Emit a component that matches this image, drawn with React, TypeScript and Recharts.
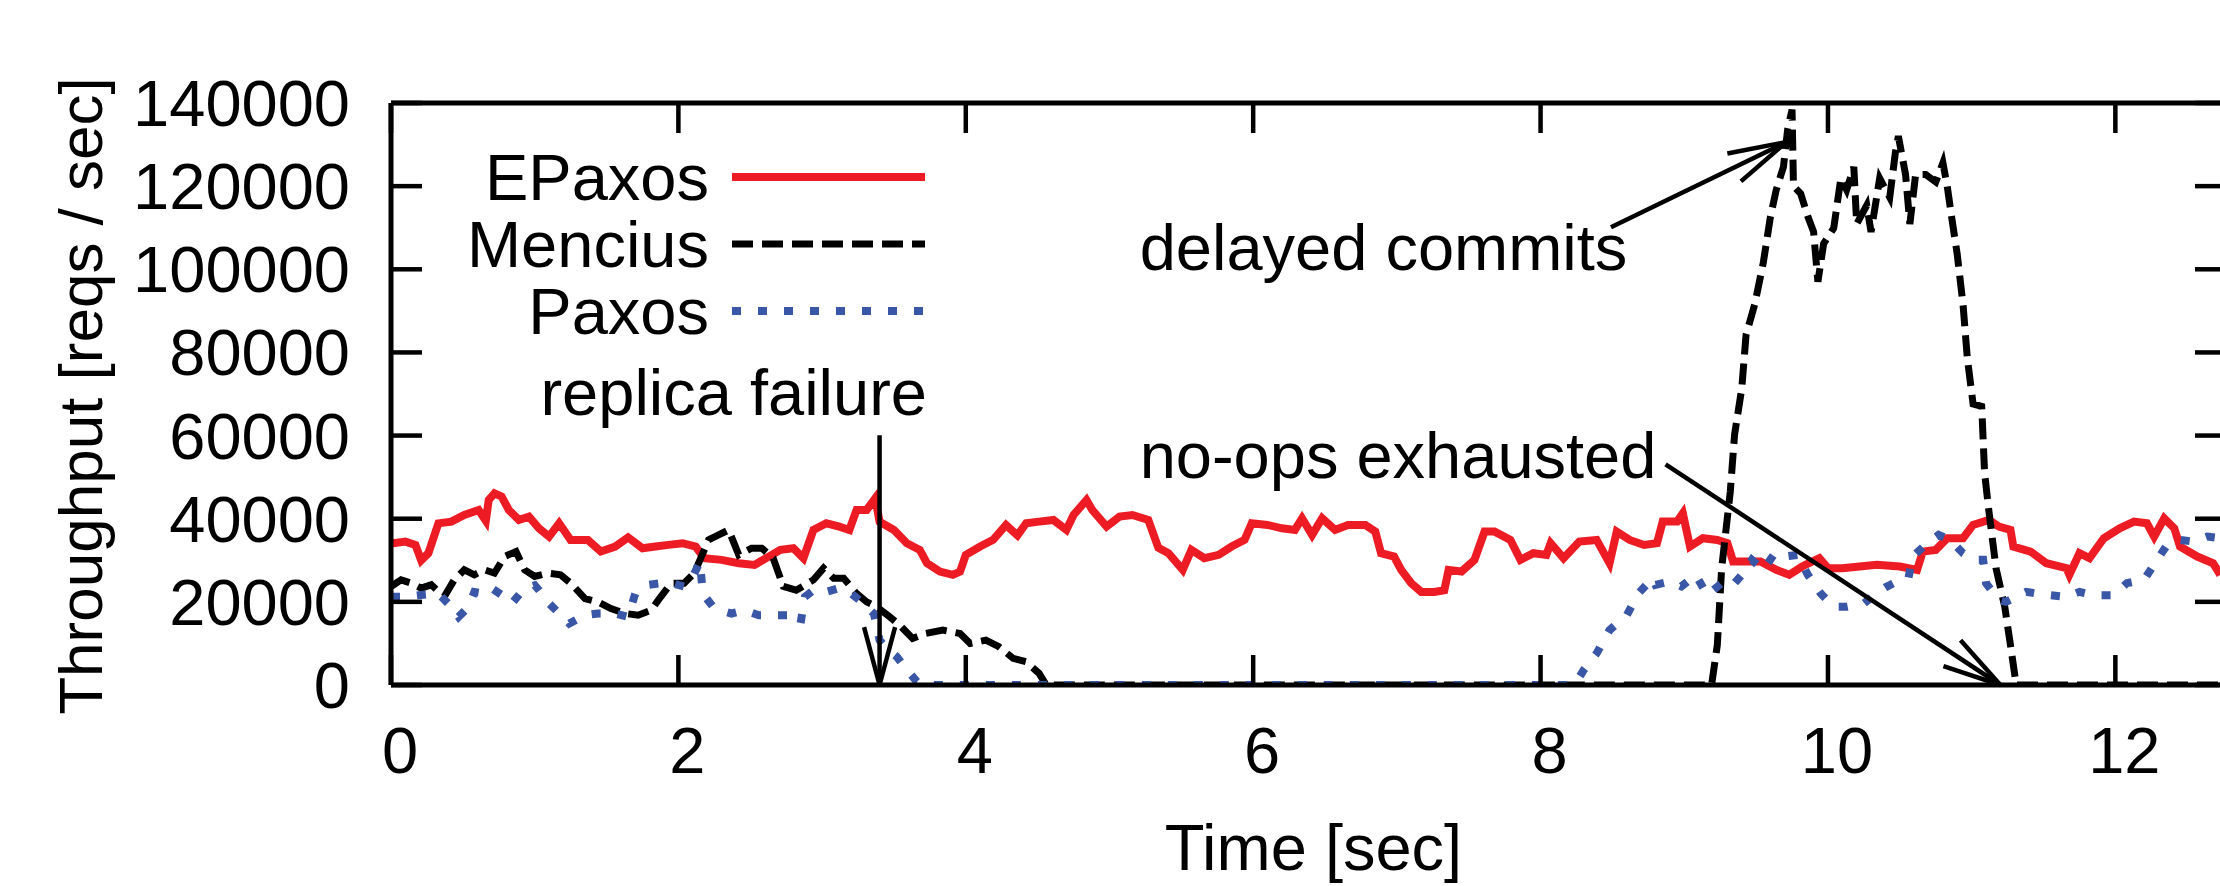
import React from 'react';
import { LineChart, Line, XAxis, YAxis, Legend, ReferenceLine, ReferenceDot } from 'recharts';

// [time (sec), throughput (reqs/sec)]
const epaxosSamples: [number, number][] = [
  [0, 34000], [0.1, 34500], [0.17, 33700], [0.21, 30000], [0.26, 31700], [0.33, 38900], [0.42, 39300],
  [0.51, 40900], [0.61, 42100], [0.66, 39500], [0.68, 44500], [0.72, 46100], [0.77, 45300], [0.82, 42100],
  [0.89, 39700], [0.96, 40500], [1.03, 37700], [1.1, 35700], [1.17, 38900], [1.25, 34900], [1.37, 34900],
  [1.46, 32100], [1.56, 33300], [1.65, 35500], [1.75, 32900], [1.84, 33300], [1.93, 33700], [2.03, 34100],
  [2.12, 33300], [2.18, 30500], [2.3, 30100], [2.42, 29300], [2.53, 28900], [2.57, 29700], [2.71, 32500],
  [2.8, 32900], [2.87, 30500], [2.94, 37300], [3.03, 38900], [3.12, 38100], [3.19, 37300], [3.24, 42100],
  [3.31, 42100], [3.37, 44900], [3.4, 39300], [3.5, 37300], [3.59, 34100], [3.68, 32500], [3.73, 29300],
  [3.82, 27300], [3.91, 26500], [3.96, 27300], [4.0, 31300], [4.1, 33300], [4.19, 34900], [4.28, 38500],
  [4.36, 36000], [4.42, 38900], [4.51, 39300], [4.61, 39700], [4.7, 37300], [4.75, 40900], [4.84, 44500],
  [4.88, 42100], [4.98, 38100], [5.07, 40500], [5.16, 40900], [5.27, 39700], [5.34, 33000], [5.41, 31700],
  [5.51, 27700], [5.57, 32500], [5.66, 30500], [5.76, 31300], [5.85, 33300], [5.94, 34900], [5.99, 38900],
  [6.1, 38500], [6.2, 37700], [6.29, 37300], [6.34, 40100], [6.41, 36100], [6.48, 40100], [6.57, 37300],
  [6.66, 38500], [6.78, 38500], [6.85, 36900], [6.89, 31700], [6.98, 30900], [7.03, 27700], [7.1, 24500],
  [7.17, 22400], [7.26, 22400], [7.33, 22800], [7.36, 27700], [7.45, 27300], [7.54, 30100], [7.61, 36900],
  [7.68, 36900], [7.79, 34900], [7.86, 30100], [7.95, 31700], [8.04, 31300], [8.07, 34100], [8.16, 30500],
  [8.27, 34500], [8.39, 34900], [8.48, 29300], [8.53, 36900], [8.62, 34900], [8.72, 33700], [8.81, 34100],
  [8.85, 39300], [8.95, 39300], [8.99, 41300], [9.04, 33300], [9.13, 35300], [9.23, 34900], [9.3, 34100],
  [9.34, 29700], [9.41, 29700], [9.53, 29700], [9.64, 27700], [9.73, 26500], [9.82, 28500], [9.94, 30500],
  [10.0, 28100], [10.1, 28100], [10.22, 28500], [10.34, 28900], [10.5, 28500], [10.62, 27700], [10.66, 32100],
  [10.75, 32500], [10.83, 35300], [10.94, 35300], [11.01, 38500], [11.12, 39700], [11.19, 38100], [11.27, 37300],
  [11.29, 33300], [11.41, 32100], [11.52, 29300], [11.66, 28100], [11.68, 26500], [11.75, 31700], [11.82, 30500],
  [11.92, 35300], [12.03, 37700], [12.13, 39300], [12.22, 38900], [12.27, 35700], [12.34, 40100], [12.41, 37700],
  [12.45, 33300], [12.57, 30900], [12.68, 29300], [12.73, 26500],
];

const menciusSamples: [number, number][] = [
  [0, 23700], [0.07, 25300], [0.14, 24500], [0.21, 23300], [0.28, 24100], [0.37, 21200], [0.44, 25300],
  [0.51, 27700], [0.58, 26500], [0.65, 27700], [0.72, 26900], [0.79, 30900], [0.87, 32100], [0.93, 27700],
  [1.0, 26100], [1.09, 26900], [1.18, 26500], [1.25, 24500], [1.35, 20800], [1.44, 20000], [1.53, 18400],
  [1.63, 17200], [1.72, 16800], [1.81, 18000], [1.86, 20400], [1.95, 24500], [2.04, 24500], [2.11, 26900],
  [2.21, 34900], [2.28, 36100], [2.35, 37300], [2.42, 31300], [2.51, 32900], [2.58, 32900], [2.66, 30500],
  [2.73, 23700], [2.82, 22800], [2.94, 25300], [3.01, 28100], [3.08, 25700], [3.15, 25700], [3.24, 22000],
  [3.31, 20000], [3.38, 18800], [3.47, 16400], [3.54, 14400], [3.63, 11200], [3.72, 12400], [3.84, 13200],
  [3.96, 12400], [4.03, 10000], [4.14, 10800], [4.23, 9200], [4.33, 6400], [4.42, 5600], [4.51, 2800],
  [4.56, 0], [9.19, 0], [9.23, 9600], [9.26, 28000], [9.32, 46400], [9.35, 60200], [9.4, 71300],
  [9.43, 84200], [9.49, 91500], [9.55, 101600], [9.6, 112700], [9.64, 119100], [9.69, 124600], [9.72, 133800],
  [9.75, 138400], [9.76, 120000], [9.81, 118200], [9.86, 112700], [9.9, 109000], [9.93, 97000], [9.97, 106200],
  [10.04, 109900], [10.09, 121900], [10.13, 119100], [10.18, 124600], [10.2, 110900], [10.27, 115400],
  [10.3, 109000], [10.36, 121900], [10.43, 117300], [10.47, 128300], [10.49, 132000], [10.54, 122800],
  [10.57, 110900], [10.61, 122800], [10.68, 122800], [10.75, 121000], [10.8, 125600], [10.83, 120000],
  [10.86, 112700], [10.9, 103500], [10.94, 91500], [10.97, 78600], [11.01, 67600], [11.07, 67000],
  [11.09, 51000], [11.12, 41800], [11.17, 28000], [11.23, 18900], [11.27, 9600], [11.31, 0], [12.77, 0],
];

const paxosSamples: [number, number][] = [
  [0, 21200], [0.1, 21200], [0.19, 21600], [0.33, 22000], [0.42, 18800], [0.47, 16400], [0.54, 18800],
  [0.58, 22400], [0.65, 22000], [0.7, 23300], [0.79, 21200], [0.84, 19600], [0.93, 23300], [1.0, 24000],
  [1.03, 22800], [1.1, 19600], [1.17, 17200], [1.24, 14800], [1.35, 16800], [1.44, 17200], [1.56, 17200],
  [1.65, 16400], [1.7, 22000], [1.79, 24100], [1.88, 24500], [1.95, 24500], [2.04, 23700], [2.09, 25300],
  [2.15, 29700], [2.17, 22000], [2.25, 18400], [2.37, 17200], [2.46, 18000], [2.56, 16800], [2.61, 16800],
  [2.71, 16800], [2.78, 16800], [2.85, 14800], [2.88, 21200], [2.94, 22800], [3.03, 22400], [3.12, 23300],
  [3.19, 22400], [3.26, 20400], [3.36, 17200], [3.4, 10800], [3.45, 8800], [3.52, 6800], [3.59, 3600],
  [3.66, 800], [3.73, 0], [8.2, 0], [8.25, 800], [8.3, 3600], [8.39, 7600], [8.48, 13200], [8.6, 16800],
  [8.68, 22000], [8.78, 25700], [8.8, 24100], [8.9, 24900], [8.98, 23700], [9.08, 26500], [9.16, 21600],
  [9.26, 24500], [9.33, 23700], [9.41, 26900], [9.47, 30100], [9.55, 27700], [9.63, 31700], [9.7, 30900],
  [9.79, 31300], [9.86, 26500], [9.95, 22000], [10.04, 18800], [10.13, 18800], [10.25, 19600], [10.35, 22400],
  [10.4, 23500], [10.48, 24900], [10.56, 25700], [10.59, 30900], [10.69, 34100], [10.77, 36100], [10.85, 34900],
  [10.94, 31700], [11.01, 30100], [11.08, 30100], [11.1, 24500], [11.19, 20400], [11.24, 20000], [11.38, 22400],
  [11.45, 22000], [11.55, 21600], [11.66, 21200], [11.75, 22400], [11.85, 21600], [11.99, 21600], [12.08, 24500],
  [12.2, 25300], [12.29, 30100], [12.36, 33700], [12.45, 34900], [12.54, 34500], [12.64, 35700], [12.73, 35300],
];

const xTicks = [0, 2, 4, 6, 8, 10, 12];
const yTicks = [0, 20000, 40000, 60000, 80000, 100000, 120000, 140000];
const X_MAX = 12.77;
const Y_MAX = 140000;

const annotationTexts = [
  { text: 'replica failure', x: 1.04, y: 64900 },
  { text: 'delayed commits', x: 5.21, y: 99800 },
  { text: 'no-ops exhausted', x: 5.21, y: 49800 },
];
const annotationArrows = [
  { from: { x: 3.4, y: 60100 }, to: { x: 3.4, y: 0 } },
  { from: { x: 8.49, y: 110100 }, to: { x: 9.71, y: 130600 } },
  { from: { x: 8.87, y: 53100 }, to: { x: 11.2, y: 0 } },
];

const FONT = '"Liberation Sans", Arial, Helvetica, sans-serif';
const RED = '#ed1c24';
const BLUE = '#3a56a6';

const seriesStyle: Record<string, { color: string; width: number; dash?: string }> = {
  EPaxos: { color: RED, width: 8 },
  Mencius: { color: '#000000', width: 7, dash: '21 9' },
  Paxos: { color: BLUE, width: 8, dash: '9 17' },
};

const toRows = (s: [number, number][]) => s.map(([t, v]) => ({ t, v }));

const BottomTick = (p: any) => (
  <g>
    <line x1={p.x} y1={p.y} x2={p.x} y2={p.y - 30} stroke="#000" strokeWidth={4.5} />
    <text x={p.x + 9} y={p.y + 88} textAnchor="middle" fontSize={65} fontFamily={FONT} fill="#000">
      {p.payload.value}
    </text>
  </g>
);
const TopTick = (p: any) => (
  <line x1={p.x} y1={p.y} x2={p.x} y2={p.y + 30} stroke="#000" strokeWidth={4.5} />
);
const LeftTick = (p: any) => (
  <g>
    <line x1={p.x} y1={p.y} x2={p.x + 31} y2={p.y} stroke="#000" strokeWidth={4.5} />
    <text x={p.x - 41} y={p.y + 23} textAnchor="end" fontSize={65} fontFamily={FONT} fill="#000">
      {p.payload.value}
    </text>
  </g>
);
const RightTick = (p: any) => (
  <line x1={p.x} y1={p.y} x2={p.x - 31} y2={p.y} stroke="#000" strokeWidth={4.5} />
);

const yTitle = (props: any) => {
  const vb = props.viewBox || { x: 0, y: 103, width: 391, height: 582 };
  const cx = vb.x + 102;
  const cy = vb.y + vb.height / 2 + 2;
  return (
    <text x={cx} y={cy} transform={`rotate(-90, ${cx}, ${cy})`} textAnchor="middle" fontSize={62} fontFamily={FONT} fill="#000">
      Throughput [reqs / sec]
    </text>
  );
};
const xTitle = (props: any) => {
  const vb = props.viewBox || { x: 391, y: 685, width: 1835, height: 201 };
  return (
    <text x={vb.x + vb.width / 2 + 5} y={vb.y + 185} textAnchor="middle" fontSize={65} fontFamily={FONT} fill="#000">
      Time [sec]
    </text>
  );
};

const arrowShape = (p: any) => {
  const { x1, y1, x2, y2 } = p;
  const ang = Math.atan2(y2 - y1, x2 - x1);
  const L = 60;
  const a = (15 * Math.PI) / 180;
  const h1x = x2 - L * Math.cos(ang - a);
  const h1y = y2 - L * Math.sin(ang - a);
  const h2x = x2 - L * Math.cos(ang + a);
  const h2y = y2 - L * Math.sin(ang + a);
  return (
    <g>
      <line x1={x1} y1={y1} x2={x2} y2={y2} stroke="#000" strokeWidth={4.5} />
      <line x1={h1x} y1={h1y} x2={x2} y2={y2} stroke="#000" strokeWidth={4.5} />
      <line x1={h2x} y1={h2y} x2={x2} y2={y2} stroke="#000" strokeWidth={4.5} />
    </g>
  );
};

const textShape = (label: string) => (p: any) => (
  <text x={p.cx} y={p.cy} fontSize={65} fontFamily={FONT} fill="#000">
    {label}
  </text>
);

const renderLegend = (props: any) => {
  const payload = props.payload || [];
  return (
    <svg width={1000} height={360}>
      {payload.map((item: any, i: number) => {
        const name = String(item.value);
        const st = seriesStyle[name];
        const ly = 177 + 67 * i;
        return (
          <g key={name}>
            <text x={709} y={ly + 23} textAnchor="end" fontSize={65} fontFamily={FONT} fill="#000">
              {name}
            </text>
            <line x1={732} y1={ly} x2={925} y2={ly} stroke={st ? st.color : item.color} strokeWidth={st ? st.width : 6}
              strokeDasharray={st && st.dash ? st.dash : undefined} />
          </g>
        );
      })}
    </svg>
  );
};

const axisLineStyle = { stroke: '#000', strokeWidth: 5 };

export default function App() {
  return (
    <div style={{ position: 'fixed', left: 0, top: 0, width: 2220, height: 886, overflow: 'hidden', background: '#fff' }}>
      <LineChart width={2240} height={886} margin={{ top: 0, right: 0, bottom: 0, left: 0 }}>
        <XAxis xAxisId={0} dataKey="t" type="number" domain={[0, X_MAX]} allowDataOverflow ticks={xTicks}
          interval={0} tickSize={0} tickMargin={0} tickLine={false} axisLine={axisLineStyle}
          tick={BottomTick} height={201} label={{ content: xTitle }} />
        <XAxis xAxisId="top" orientation="top" dataKey="t" type="number" domain={[0, X_MAX]} allowDataOverflow
          ticks={xTicks} interval={0} tickSize={0} tickMargin={0} tickLine={false} axisLine={axisLineStyle}
          tick={TopTick} height={103} />
        <YAxis yAxisId={0} type="number" domain={[0, Y_MAX]} allowDataOverflow ticks={yTicks} interval={0}
          tickSize={0} tickMargin={0} tickLine={false} axisLine={axisLineStyle} tick={LeftTick} width={391}
          label={{ content: yTitle }} />
        <YAxis yAxisId="right" orientation="right" type="number" domain={[0, Y_MAX]} allowDataOverflow ticks={yTicks}
          interval={0} tickSize={0} tickMargin={0} tickLine={false} axisLine={axisLineStyle} tick={RightTick} width={14} />
        <Legend layout="horizontal" verticalAlign="middle" align="center" content={renderLegend}
          wrapperStyle={{ left: 0, top: 0, width: 1000, height: 360 }} />
        <Line name="EPaxos" data={toRows(epaxosSamples)} dataKey="v" type="linear" stroke={RED} strokeWidth={8}
          dot={false} activeDot={false} isAnimationActive={false} />
        <Line name="Mencius" data={toRows(menciusSamples)} dataKey="v" type="linear" stroke="#000" strokeWidth={7}
          strokeDasharray="21 9" dot={false} activeDot={false} isAnimationActive={false} />
        <Line name="Paxos" data={toRows(paxosSamples)} dataKey="v" type="linear" stroke={BLUE} strokeWidth={8}
          strokeDasharray="9 17" dot={false} activeDot={false} isAnimationActive={false} />
        {annotationArrows.map((a, i) => (
          <ReferenceLine key={`arrow-${i}`} segment={[a.from, a.to]} shape={arrowShape} ifOverflow="visible" />
        ))}
        {annotationTexts.map((a, i) => (
          <ReferenceDot key={`text-${i}`} x={a.x} y={a.y} r={0} shape={textShape(a.text)} ifOverflow="visible" />
        ))}
      </LineChart>
    </div>
  );
}
